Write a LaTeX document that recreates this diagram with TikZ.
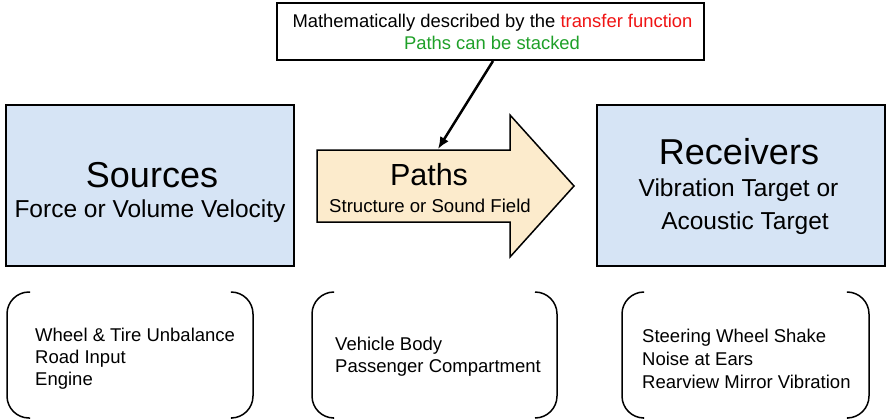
\documentclass[tikz,border=0pt]{standalone}
\usepackage{fontspec}
\setmainfont{Liberation Sans}
\usetikzlibrary{arrows.meta}
\definecolor{boxblue}{RGB}{214,228,245}
\definecolor{pathtan}{RGB}{252,235,204}
\definecolor{tfred}{RGB}{240,20,20}
\definecolor{stackgreen}{RGB}{30,160,40}
\begin{document}
\begin{tikzpicture}[x=1pt,y=-1pt,
  bigbox/.style={draw=black,line width=2pt,fill=boxblue,inner sep=0pt,minimum width=288pt,minimum height=161pt},
  notebox/.style={draw=black,line width=2pt,fill=white,inner sep=0pt,minimum width=427pt,minimum height=57pt},
  bracket/.style={draw=black,line width=1.5pt,rounded corners=22pt},
  title/.style={anchor=base,inner sep=0pt,font=\fontsize{36}{40}\selectfont},
  subtitle/.style={anchor=base,inner sep=0pt,font=\fontsize{24.5}{28}\selectfont},
  notetxt/.style={anchor=base,inner sep=0pt,font=\fontsize{18.4}{21}\selectfont},
  item/.style={anchor=base west,inner sep=0pt,font=\fontsize{18.5}{22}\selectfont},
  conn/.style={draw=black,line width=2.5pt,-{Latex[length=12pt,width=10pt]}}]
\useasboundingbox (0,0) rectangle (886,420);

% note box
\node[notebox] (note) at (490.5,31.5) {};
\node[notetxt] (note1) at (492.5,28) {Mathematically described by the \textcolor{tfred}{transfer function}};
\node[notetxt,text=stackgreen] (note2) at (492,49) {Paths can be stacked};

% sources
\node[bigbox] (sources) at (150,185.5) {};
\node[title] (srctitle) at (152,187) {Sources};
\node[subtitle] (srcsub) at (150,217) {Force or Volume Velocity};

% receivers
\node[bigbox] (receivers) at (741,185.5) {};
\node[title] (rectitle) at (739,164) {Receivers};
\node[subtitle] (recsub1) at (738.5,196) {Vibration Target or};
\node[subtitle] (recsub2) at (745,229) {Acoustic Target};

% paths arrow
\draw[draw=black,line width=1.5pt,fill=pathtan,line join=miter]
  (317,150) -- (510,150) -- (510,115) -- (574,186) -- (510,257) -- (510,222) -- (317,222) -- cycle;
\coordinate (pathsin) at (438,149);
\node[anchor=base,inner sep=0pt,font=\fontsize{30.5}{34}\selectfont] (paths) at (429,185) {Paths};
\node[anchor=base,inner sep=0pt,font=\fontsize{18.6}{22}\selectfont] (pathsub) at (430,212) {Structure or Sound Field};

% connector
\draw[conn] ([xshift=2.5pt]note.south) -- (pathsin);

% brackets
\draw[bracket] (30,292) -- (7,292) -- (7,418) -- (30,418);
\draw[bracket] (232,292) -- (253,292) -- (253,418) -- (232,418);
\draw[bracket] (333,292) -- (312,292) -- (312,418) -- (333,418);
\draw[bracket] (535,292) -- (557,292) -- (557,418) -- (535,418);
\draw[bracket] (643,292) -- (622,292) -- (622,418) -- (643,418);
\draw[bracket] (848,292) -- (869,292) -- (869,418) -- (848,418);

% bracket texts
\node[item] (s1) at (35,341) {Wheel \& Tire Unbalance};
\node[item] (s2) at (35,363) {Road Input};
\node[item] (s3) at (35,385) {Engine};
\node[item] (p1) at (335,350) {Vehicle Body};
\node[item] (p2) at (335,372) {Passenger Compartment};
\node[item] (r1) at (642,342) {Steering Wheel Shake};
\node[item] (r2) at (642,365) {Noise at Ears};
\node[item] (r3) at (642,388) {Rearview Mirror Vibration};
\end{tikzpicture}
\end{document}
